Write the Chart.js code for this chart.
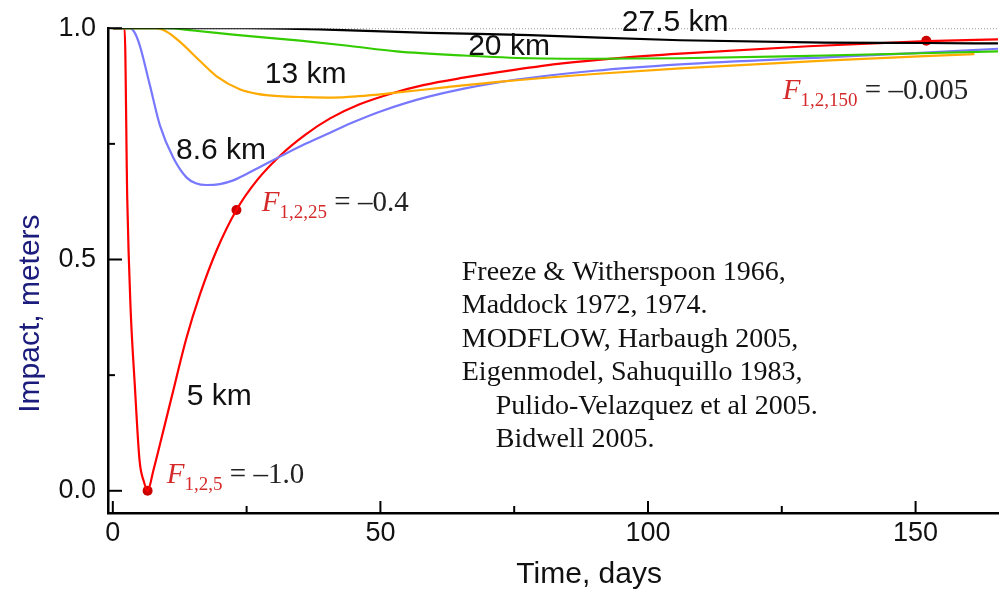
<!DOCTYPE html>
<html>
<head>
<meta charset="utf-8">
<script src="https://cdn.jsdelivr.net/npm/chart.js@4.4.1/dist/chart.umd.min.js"></script>
<style>
  html, body { margin: 0; padding: 0; background: #fff; }
</style>
</head>
<body>
<canvas id="myChart" width="1003" height="592"></canvas>
<script>
// 5 km
const days5 = [0, 2.2, 2.7, 3.3, 4.1, 5.0, 5.8, 6.5, 7.6, 8.8, 11.0, 13.8, 16.3, 19.4, 23.1, 27, 31.5, 36, 40.6, 46, 52.4, 58, 65.5, 75, 84, 95, 106, 130, 152, 166];
const impact5 = [1.0, 1.0, 0.63, 0.40, 0.23, 0.065, 0.02, 0.0, 0.045, 0.10, 0.203, 0.332, 0.425, 0.52, 0.607, 0.672, 0.727, 0.77, 0.805, 0.835, 0.86, 0.877, 0.893, 0.91, 0.924, 0.936, 0.945, 0.961, 0.972, 0.976];
// 8.6 km
const days86 = [0, 3.2, 4.0, 5.0, 6.9, 8.8, 11.3, 13.8, 15.5, 17.5, 20, 22.5, 25, 27.5, 31.5, 36, 40.6, 45, 50, 59, 72, 90, 106, 133, 150, 166];
const impact86 = [1.0, 1.0, 0.992, 0.964, 0.878, 0.79, 0.72, 0.677, 0.665, 0.661, 0.663, 0.671, 0.685, 0.700, 0.724, 0.750, 0.774, 0.797, 0.82, 0.852, 0.883, 0.908, 0.922, 0.937, 0.946, 0.956];
// 13 km
const days13 = [0, 8, 10, 12.5, 16.3, 19.4, 23.7, 27, 31, 36, 41, 46, 52.4, 62, 72, 90, 106, 133, 161];
const impact13 = [1.0, 1.0, 0.993, 0.971, 0.929, 0.896, 0.868, 0.858, 0.853, 0.851, 0.85, 0.853, 0.86, 0.872, 0.884, 0.901, 0.913, 0.93, 0.944];
// 20 km
const days20 = [0, 10, 15, 22.5, 35, 44, 53, 65.5, 78, 90, 106, 133, 166];
const impact20 = [1.0, 1.0, 0.995, 0.986, 0.973, 0.962, 0.95, 0.941, 0.935, 0.934, 0.935, 0.941, 0.95];
// 27.5 km
const days275 = [0, 25, 40, 59, 78, 106, 133, 152, 166];
const impact275 = [1.0, 1.0, 0.997, 0.99, 0.985, 0.974, 0.969, 0.968, 0.967];

// marked points on the 5 km curve
const markDays = [6.5, 23.1, 152];
const markImpact = [0.0, 0.607, 0.973];

const xTicks = [0, 50, 100, 150];
const xMinorTicks = [25, 75, 125];
const yTicks = [0, 0.5, 1.0];
const yMinorTicks = [0.25, 0.75];

function pts(xs, ys) {
  return xs.map((d, i) => ({ x: d, y: ys[i] }));
}

function line(xs, ys, color) {
  return {
    data: pts(xs, ys),
    borderColor: color,
    borderWidth: 2.2,
    pointRadius: 0,
    fill: false,
    cubicInterpolationMode: "monotone",
  };
}

// curve labels, placed in data units
const curveLabels = [
  { text: "27.5 km", x: 95.1, y: 0.994 },
  { text: "20 km", x: 66.4, y: 0.943 },
  { text: "13 km", x: 28.4, y: 0.881 },
  { text: "8.6 km", x: 11.8, y: 0.717 },
  { text: "5 km", x: 13.8, y: 0.185 },
];
const fLabels = [
  { sub: "1,2,5", rest: "–1.0", x: 10.1, y: 0.0166 },
  { sub: "1,2,25", rest: "–0.4", x: 27.85, y: 0.605 },
  { sub: "1,2,150", rest: "–0.005", x: 125.2, y: 0.846 },
];
const refLines = [
  "Freeze & Witherspoon 1966,",
  "Maddock 1972, 1974.",
  "MODFLOW, Harbaugh 2005,",
  "Eigenmodel, Sahuquillo 1983,",
  "   Pulido-Velazquez et al 2005.",
  "   Bidwell 2005.",
];

const extras = {
  id: "extras",
  beforeDatasetsDraw(chart) {
    const { ctx, chartArea } = chart;
    const y = chart.scales.y;
    ctx.save();
    ctx.strokeStyle = "#9a9a9a";
    ctx.lineWidth = 1;
    ctx.setLineDash([1, 2]);
    ctx.beginPath();
    ctx.moveTo(chartArea.left, y.getPixelForValue(1.0) + 0.5);
    ctx.lineTo(chartArea.right, y.getPixelForValue(1.0) + 0.5);
    ctx.stroke();
    ctx.restore();
  },
  afterDraw(chart) {
    const { ctx, chartArea } = chart;
    const x = chart.scales.x, y = chart.scales.y;
    ctx.save();

    // inward ticks
    ctx.strokeStyle = "#000";
    ctx.lineWidth = 2;
    const xt = (v, len) => {
      const p = x.getPixelForValue(v);
      ctx.beginPath();
      ctx.moveTo(p, chartArea.bottom);
      ctx.lineTo(p, chartArea.bottom - len);
      ctx.stroke();
    };
    const yt = (v, len) => {
      const p = y.getPixelForValue(v);
      ctx.beginPath();
      ctx.moveTo(chartArea.left, p);
      ctx.lineTo(chartArea.left + len, p);
      ctx.stroke();
    };
    xTicks.forEach(v => xt(v, 12));
    xMinorTicks.forEach(v => xt(v, 7));
    yTicks.forEach(v => yt(v, 14));
    yMinorTicks.forEach(v => yt(v, 7));

    // curve names
    ctx.fillStyle = "#111";
    ctx.font = "30px 'Liberation Sans', Arial, sans-serif";
    ctx.textBaseline = "alphabetic";
    ctx.textAlign = "left";
    curveLabels.forEach(l => {
      ctx.fillText(l.text, x.getPixelForValue(l.x), y.getPixelForValue(l.y));
    });

    // F labels
    fLabels.forEach(l => {
      const px = x.getPixelForValue(l.x), py = y.getPixelForValue(l.y);
      ctx.fillStyle = "#d42a2a";
      ctx.font = "italic 29px 'Liberation Serif', serif";
      ctx.fillText("F", px, py);
      let w = ctx.measureText("F").width;
      ctx.font = "19px 'Liberation Serif', serif";
      ctx.fillText(l.sub, px + w, py + 7);
      w += ctx.measureText(l.sub).width;
      ctx.fillStyle = "#222";
      ctx.font = "29px 'Liberation Serif', serif";
      ctx.fillText(" = " + l.rest, px + w, py);
    });

    // references
    ctx.fillStyle = "#111";
    ctx.font = "28px 'Liberation Serif', serif";
    const rx = x.getPixelForValue(65.2);
    const ry = y.getPixelForValue(0.456);
    refLines.forEach((t, i) => {
      const indent = t.startsWith("   ") ? 34 : 0;
      ctx.fillText(t.trim(), rx + indent, ry + i * 33.5);
    });

    // axis titles
    ctx.font = "30px 'Liberation Sans', Arial, sans-serif";
    ctx.textAlign = "center";
    ctx.fillStyle = "#111";
    ctx.fillText("Time, days", x.getPixelForValue(89), 583);
    ctx.translate(39, y.getPixelForValue(0.383));
    ctx.rotate(-Math.PI / 2);
    ctx.fillStyle = "#1c1c7c";
    ctx.fillText("Impact, meters", 0, 0);
    ctx.restore();
  },
};

new Chart("myChart", {
  type: "line",
  data: {
    datasets: [
      line(days275, impact275, "#000000"),
      line(days20, impact20, "#33cc00"),
      line(days13, impact13, "#ffaa00"),
      line(days86, impact86, "#7878ff"),
      line(days5, impact5, "#ff0000"),
      {
        type: "scatter",
        data: pts(markDays, markImpact),
        pointRadius: 5,
        pointBackgroundColor: "#cc0000",
        pointBorderWidth: 0,
        showLine: false,
      },
    ],
  },
  options: {
    responsive: false,
    animation: false,
    layout: { padding: { top: 27, right: 5, left: 0, bottom: 0 } },
    plugins: { legend: { display: false }, tooltip: { enabled: false } },
    scales: {
      x: {
        type: "linear",
        min: -0.9,
        max: 165.4,
        afterBuildTicks: (s) => { s.ticks = xTicks.map(v => ({ value: v })); },
        afterFit: (s) => { s.height = 79; },
        grid: { display: false, drawTicks: false },
        border: { display: true, color: "#000", width: 2.5 },
        ticks: {
          padding: 4,
          color: "#111",
          font: { family: "'Liberation Sans', Arial, sans-serif", size: 27 },
          callback: (v) => String(v),
        },
      },
      y: {
        type: "linear",
        min: -0.048,
        max: 1.0,
        afterBuildTicks: (s) => { s.ticks = yTicks.map(v => ({ value: v })); },
        afterFit: (s) => { s.width = 108; },
        grid: { display: false, drawTicks: false },
        border: { display: true, color: "#000", width: 2.5 },
        ticks: {
          padding: 12,
          color: "#111",
          font: { family: "'Liberation Sans', Arial, sans-serif", size: 27 },
          callback: (v) => v.toFixed(1),
        },
      },
    },
  },
  plugins: [extras],
});
</script>
</body>
</html>
